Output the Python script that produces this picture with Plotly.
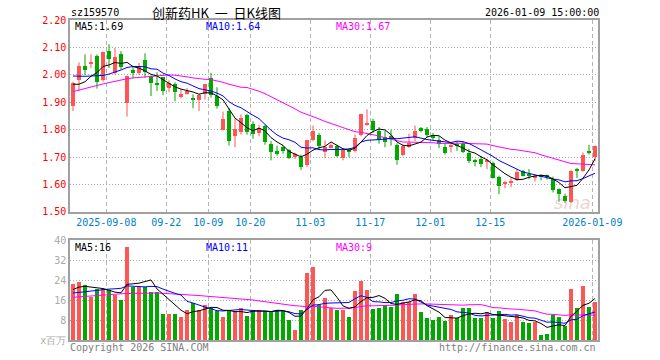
import plotly.graph_objects as go
import pandas as pd

# ---------------- data ----------------
holidays = ['2025-10-01', '2025-10-02', '2025-10-03', '2025-10-06', '2025-10-07',
            '2025-10-08', '2026-01-01', '2026-01-02']
dates = [d.strftime('%Y-%m-%d') for d in pd.bdate_range('2025-08-29', '2026-01-09')
         if d.strftime('%Y-%m-%d') not in holidays]

open_ = [1.885, 1.982, 2.031, 2.043, 2.068, 1.980, 2.087, 2.007, 2.075, 1.896,
         2.017, 2.007, 2.053, 1.995, 1.972, 1.991, 1.952, 1.966, 1.919, 1.932,
         1.915, 1.910, 1.929, 1.990, 1.923, 1.800, 1.867, 1.776, 1.791, 1.852,
         1.819, 1.788, 1.815, 1.748, 1.721, 1.737, 1.725, 1.699, 1.702, 1.672,
         1.761, 1.782, 1.717, 1.736, 1.739, 1.696, 1.727, 1.721, 1.782, 1.820,
         1.831, 1.797, 1.774, 1.776, 1.745, 1.709, 1.737, 1.770, 1.807, 1.803,
         1.782, 1.764, 1.737, 1.737, 1.749, 1.749, 1.715, 1.687, 1.693, 1.684,
         1.678, 1.629, 1.604, 1.604, 1.617, 1.648, 1.637, 1.626, 1.633, 1.632,
         1.619, 1.583, 1.559, 1.537, 1.655, 1.651, 1.722, 1.700]
high = [1.975, 2.046, 2.075, 2.075, 2.075, 2.085, 2.112, 2.099, 2.087, 1.998,
        2.033, 2.044, 2.079, 1.998, 2.010, 1.993, 1.980, 1.973, 1.948, 1.952,
        1.929, 1.930, 1.966, 2.008, 1.955, 1.866, 1.880, 1.841, 1.856, 1.858,
        1.831, 1.817, 1.818, 1.758, 1.742, 1.742, 1.729, 1.716, 1.709, 1.763,
        1.815, 1.788, 1.761, 1.750, 1.745, 1.733, 1.733, 1.782, 1.858, 1.874,
        1.840, 1.810, 1.795, 1.800, 1.750, 1.745, 1.785, 1.815, 1.810, 1.810,
        1.788, 1.776, 1.749, 1.751, 1.758, 1.758, 1.730, 1.693, 1.705, 1.694,
        1.684, 1.632, 1.613, 1.623, 1.656, 1.653, 1.656, 1.635, 1.636, 1.636,
        1.629, 1.586, 1.567, 1.653, 1.660, 1.717, 1.745, 1.742]
low = [1.868, 1.941, 2.000, 2.025, 1.950, 1.975, 2.025, 2.000, 2.020, 1.848,
       1.988, 2.000, 1.990, 1.923, 1.941, 1.926, 1.937, 1.904, 1.915, 1.928,
       1.878, 1.868, 1.910, 1.917, 1.877, 1.798, 1.742, 1.736, 1.782, 1.782,
       1.767, 1.776, 1.745, 1.688, 1.705, 1.712, 1.693, 1.693, 1.653, 1.663,
       1.758, 1.727, 1.696, 1.733, 1.700, 1.688, 1.700, 1.717, 1.776, 1.814,
       1.788, 1.749, 1.736, 1.742, 1.672, 1.703, 1.733, 1.758, 1.790, 1.772,
       1.761, 1.733, 1.709, 1.717, 1.723, 1.715, 1.678, 1.666, 1.663, 1.656,
       1.622, 1.565, 1.586, 1.590, 1.613, 1.629, 1.619, 1.611, 1.615, 1.618,
       1.571, 1.537, 1.533, 1.533, 1.623, 1.647, 1.709, 1.684]
close = [1.972, 2.031, 2.018, 2.047, 1.975, 2.083, 2.058, 2.064, 2.029, 1.995,
         2.006, 2.031, 2.011, 1.969, 1.963, 1.941, 1.969, 1.939, 1.929, 1.940,
         1.912, 1.928, 1.966, 1.926, 1.885, 1.840, 1.758, 1.803, 1.842, 1.791,
         1.786, 1.807, 1.754, 1.717, 1.713, 1.722, 1.697, 1.711, 1.662, 1.761,
         1.795, 1.742, 1.736, 1.743, 1.703, 1.727, 1.717, 1.770, 1.856, 1.824,
         1.800, 1.762, 1.754, 1.770, 1.690, 1.739, 1.752, 1.795, 1.797, 1.782,
         1.770, 1.746, 1.715, 1.745, 1.743, 1.717, 1.684, 1.684, 1.676, 1.690,
         1.625, 1.596, 1.609, 1.613, 1.644, 1.632, 1.635, 1.631, 1.628, 1.628,
         1.580, 1.567, 1.538, 1.648, 1.652, 1.709, 1.719, 1.742]
volume = [22.4, 23.2, 21.9, 17.3, 20.3, 20.3, 20.0, 17.9, 16.0, 37.3,
          21.3, 21.3, 21.1, 19.3, 19.3, 10.4, 10.4, 10.4, 9.3, 12.0,
          14.7, 12.0, 14.0, 12.7, 11.6, 9.3, 11.6, 11.5, 13.0, 9.5,
          12.1, 11.9, 11.7, 11.7, 12.1, 11.7, 7.9, 4.1, 12.1, 27.0,
          29.4, 14.0, 16.9, 13.0, 12.2, 12.2, 9.2, 19.7, 23.7, 20.2,
          12.5, 12.9, 14.1, 13.4, 18.4, 15.2, 15.1, 18.4, 11.4, 8.7,
          8.2, 9.1, 7.6, 10.2, 8.8, 12.9, 12.7, 9.0, 9.0, 11.3,
          9.0, 11.5, 8.3, 7.1, 10.1, 7.1, 6.7, 7.3, 1.9, 2.3,
          9.9, 9.1, 5.7, 20.4, 12.7, 21.6, 13.2, 15.2]

# moving-average values at the start of the window (read from the picture,
# they depend on days before the first shown candle)
ma5_head = [1.966, 1.966, 1.975, 1.995]
ma10_head = [1.996, 1.995, 1.995, 1.996, 1.996, 1.998, 2.003, 2.010, 2.018]
ma30_head = [1.939, 1.945, 1.951, 1.957, 1.962, 1.967, 1.972, 1.977, 1.982, 1.986,
             1.989, 1.991, 1.993, 1.995, 1.998, 2.000, 2.000, 1.999, 1.997, 1.993,
             1.989, 1.986, 1.984, 1.983, 1.979, 1.973, 1.966, 1.960, 1.955]
vma5_head = [20.2, 21.2, 21.5, 21.3]
vma10_head = [18.8, 19.1, 19.5, 19.8, 20.1, 20.3, 20.4, 20.5, 20.7]
vma30_head = [17.1, 17.3, 17.4, 17.5, 17.7, 17.9, 18.1, 18.3, 18.5, 18.6,
              18.7, 18.8, 18.8, 18.8, 18.8, 18.7, 18.6, 18.4, 18.2, 18.0,
              17.9, 17.8, 17.6, 17.4, 17.2, 17.0, 16.9, 16.8, 16.6]

tick_dates = ['2025-09-08', '2025-09-22', '2025-10-09', '2025-10-20', '2025-11-03',
              '2025-11-17', '2025-12-01', '2025-12-15', '2026-01-09']
tick_text = ['2025-09-08', '09-22', '10-09', '10-20', '11-03', '11-17', '12-01',
             '12-15', '2026-01-09']
price_ticks = [1.50, 1.60, 1.70, 1.80, 1.90, 2.00, 2.10, 2.20]
vol_ticks = [0, 8, 16, 24, 32, 40]
vol_tick_text = ['x百万', '8', '16', '24', '32', '40']

# ---------------- helpers ----------------
def moving(vals, n, head):
    out = []
    for i in range(len(vals)):
        if i < n - 1:
            out.append(head[i])
        else:
            out.append(sum(vals[i - n + 1:i + 1]) / n)
    return out

N = len(close)
idx = list(range(N))
ma5 = moving(close, 5, ma5_head)
ma10 = moving(close, 10, ma10_head)
ma30 = moving(close, 30, ma30_head)
vma5 = moving(volume, 5, vma5_head)
vma10 = moving(volume, 10, vma10_head)
vma30 = moving(volume, 30, vma30_head)

RED = '#ff5555'
GREEN = '#00a800'
MONO = 'DejaVu Sans Mono, Liberation Mono, monospace'
up = [c >= o for o, c in zip(open_, close)]
cols = [RED if u else GREEN for u in up]

fig = go.Figure()

# wicks
for flag, col in [(True, RED), (False, GREEN)]:
    wx, wy = [], []
    for i in idx:
        if up[i] == flag:
            wx += [i, i, None]
            wy += [low[i], high[i], None]
    fig.add_trace(go.Scatter(x=wx, y=wy, mode='lines', line=dict(color=col, width=1),
                             hoverinfo='skip', showlegend=False, xaxis='x', yaxis='y'))

# bodies
body = [max(abs(c - o), 0.004) for o, c in zip(open_, close)]
base = [min(o, c) if abs(c - o) >= 0.004 else (o + c) / 2 - 0.002 for o, c in zip(open_, close)]
fig.add_trace(go.Bar(x=idx, y=body, base=base, width=0.8, marker=dict(color=cols, line=dict(width=0)),
                     showlegend=False, xaxis='x', yaxis='y'))

for vals, col in [(ma30, '#ff00ff'), (ma10, '#0000ff'), (ma5, '#000000')]:
    fig.add_trace(go.Scatter(x=idx, y=vals, mode='lines', line=dict(color=col, width=1),
                             showlegend=False, xaxis='x', yaxis='y'))

# volume
fig.add_trace(go.Bar(x=idx, y=volume, width=0.82, marker=dict(color=cols, line=dict(width=0)),
                     showlegend=False, xaxis='x2', yaxis='y2'))
for vals, col in [(vma30, '#ff00ff'), (vma10, '#0000ff'), (vma5, '#000000')]:
    fig.add_trace(go.Scatter(x=idx, y=vals, mode='lines', line=dict(color=col, width=1),
                             showlegend=False, xaxis='x2', yaxis='y2'))

tickpos = [dates.index(d) - 0.45 for d in tick_dates]
W, H = 660, 360
xdom = [70 / W, 598 / W]
frame = dict(showline=True, mirror=True, linecolor='#a0a0a0', linewidth=1.5,
             zeroline=False, automargin=False)

fig.update_layout(
    width=W, height=H, autosize=False, margin=dict(l=0, r=0, t=0, b=0, autoexpand=False),
    paper_bgcolor='white', plot_bgcolor='white', bargap=0,
    xaxis=dict(domain=xdom, range=[-0.5, N - 0.5], anchor='y', tickmode='array',
               tickvals=tickpos, ticktext=tick_text, ticks='', showgrid=True,
               gridcolor='#b4b4b4', gridwidth=1, griddash='4px,3px',
               tickfont=dict(family=MONO, size=10, color='#0080d0'), **frame),
    yaxis=dict(domain=[1 - 212 / H, 1 - 20 / H], range=[1.4995, 2.2005], tickmode='array',
               tickvals=price_ticks, ticktext=['%.2f' % v for v in price_ticks], ticks='',
               showgrid=True, gridcolor='#a8a8a8', gridwidth=1, griddash='1px,2px',
               tickfont=dict(family=MONO, size=10, color='#ff0000'), **frame),
    xaxis2=dict(domain=xdom, range=[-0.5, N - 0.5], anchor='y2', tickmode='array',
                tickvals=tickpos, showticklabels=False, ticks='', showgrid=True,
                gridcolor='#b4b4b4', gridwidth=1, griddash='4px,3px', **frame),
    yaxis2=dict(domain=[1 - 340 / H, 1 - 240 / H], range=[0, 40.05], tickmode='array',
                tickvals=vol_ticks, ticktext=vol_tick_text, ticks='', showgrid=True,
                gridcolor='#a8a8a8', gridwidth=1, griddash='1px,2px',
                tickfont=dict(family=MONO, size=10, color='#aaaaaa'), **frame),
)

def note(text, x, y, color='#000000', size=10, anchor='left', family=MONO):
    fig.add_annotation(text=text, x=x / W, y=1 - y / H, xref='paper', yref='paper',
                       xanchor=anchor, yanchor='middle', showarrow=False,
                       font=dict(family=family, size=size, color=color))

note('sz159570', 69, 13)
note('创新药HK\u00a0\u00a0一\u00a0\u00a0日K线图', 150, 13, size=13, family='Noto Sans CJK SC')
note('2026-01-09 15:00:00', 601, 13, anchor='right')
note('MA5:%.2f' % ma5[-1], 73, 27)
note('MA10:%.2f' % ma10[-1], 204, 27, color='#0000ff')
note('MA30:%.2f' % ma30[-1], 334, 27, color='#ff00ff')
note('MA5:%d' % int(vma5[-1]), 73, 247)
note('MA10:%d' % int(vma10[-1]), 204, 247, color='#0000ff')
note('MA30:%d' % int(vma30[-1]), 334, 247, color='#ff00ff')
note('Copyright 2026 SINA.COM', 68, 347, color='#808080')
note('http://finance.sina.com.cn', 598, 347, color='#808080', anchor='right')
note('<i>sina</i>', 572, 202, color='rgba(215,120,120,0.35)', size=18,
     anchor='center', family='DejaVu Sans')

fig.write_html('out.html', config={'responsive': False, 'displayModeBar': False},
               post_script="document.body.style.margin='0px';"
                           "document.body.style.overflow='hidden';")
